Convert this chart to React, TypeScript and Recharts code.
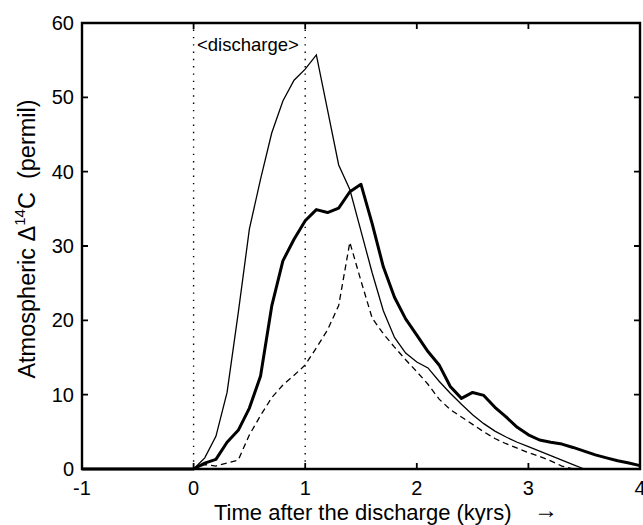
import { LineChart, Line, XAxis, YAxis, ReferenceLine } from "recharts"

// time after the discharge (kyrs)
const years = [
  -1, 0, 0.1, 0.2, 0.3, 0.4, 0.5, 0.6, 0.7, 0.8, 0.9, 1.0, 1.1, 1.2, 1.3, 1.4, 1.5, 1.6, 1.7, 1.8, 1.9, 2.0, 2.1,
  2.2, 2.3, 2.4, 2.5, 2.6, 2.7, 2.8, 2.9, 3.0, 3.1, 3.2, 3.3, 3.4, 3.5, 3.6, 3.7, 3.8, 3.9, 4.0,
]

// atmospheric Δ14C (permil), one value per year
const thinRun = [
  0, 0, 1.5, 4.4, 10.3, 21, 32.3, 39, 45.2, 49.5, 52.3, 53.8, 55.7, 48.3, 40.9, 37.6, 32, 26.4, 21.3, 17.7, 15.6,
  14.4, 13.6, 11.8, 10.2, 8.7, 7.3, 6.1, 5.1, 4.3, 3.6, 3.0, 2.4, 1.8, 1.2, 0.6, 0, null, null, null, null, null,
]
const thickRun = [
  0, 0, 0.8, 1.3, 3.6, 5.2, 8.2, 12.5, 21.9, 28.0, 30.9, 33.4, 34.9, 34.5, 35.1, 37.3, 38.3, 33.0, 27.2, 23.1, 20.2,
  18.0, 15.8, 14.0, 11.1, 9.5, 10.3, 9.9, 8.3, 7.0, 5.6, 4.6, 3.9, 3.6, 3.35, 2.9, 2.4, 1.9, 1.5, 1.1, 0.8, 0.45,
]
const dashedRun = [
  0, 0, 0.6, 0.4, 0.8, 1.2, 4.6, 7.2, 9.6, 11.3, 12.6, 14.0, 16.3, 18.7, 22.0, 30.5, 25.3, 20.3, 18.2, 16.4, 14.7,
  13.1, 11.4, 9.4, 8.0, 7.0, 6.0, 5.0, 4.1, 3.4, 2.8, 2.2, 1.7, 1.1, 0.4, 0, null, null, null, null, null, null,
]

const xTicks = [-1, 0, 1, 2, 3, 4]
const yTicks = [0, 10, 20, 30, 40, 50, 60]
const dischargeBounds = [0, 1]

const X_MIN = -1
const X_MAX = 4
const Y_MIN = 0
const Y_MAX = 60

const data = years.map((t, i) => ({
  t,
  thin: thinRun[i],
  thick: thickRun[i],
  dashed: dashedRun[i],
}))

const W = 643
const H = 525
const M = { top: 23, right: 3, bottom: 0, left: 0 }
const Y_AXIS_W = 82
const X_AXIS_H = 56
// plot box, same as what recharts lays out from the margins above
const box = {
  left: M.left + Y_AXIS_W,
  right: W - M.right,
  top: M.top,
  bottom: H - M.bottom - X_AXIS_H,
}
const px = (v: number) => box.left + ((v - X_MIN) / (X_MAX - X_MIN)) * (box.right - box.left)
const py = (v: number) => box.bottom - ((v - Y_MIN) / (Y_MAX - Y_MIN)) * (box.bottom - box.top)
const TICK = 6

const font = "'Liberation Sans', Arial, Helvetica, sans-serif"
const tickStyle = { fill: "#000", fontSize: 20, fontFamily: font }
const axisStroke = { stroke: "#000", strokeWidth: 2 }

export default function App() {
  return (
    <div style={{ position: "absolute", left: 0, top: 0, width: W, height: H, background: "#fff" }}>
      <LineChart width={W} height={H} data={data} margin={M}>
        <XAxis
          dataKey="t"
          type="number"
          domain={[X_MIN, X_MAX]}
          ticks={xTicks}
          height={X_AXIS_H}
          axisLine={axisStroke}
          tickLine={false}
          tickSize={0}
          tickMargin={12}
          tick={tickStyle}
          interval={0}
        />
        <YAxis
          type="number"
          domain={[Y_MIN, Y_MAX]}
          ticks={yTicks}
          width={Y_AXIS_W}
          axisLine={axisStroke}
          tickLine={false}
          tickSize={0}
          tickMargin={8}
          tick={tickStyle}
          interval={0}
        />
        {dischargeBounds.map((b) => (
          <ReferenceLine key={b} x={b} stroke="#000" strokeWidth={1.4} strokeDasharray="1.4 5.9" />
        ))}
        <Line
          type="linear"
          dataKey="dashed"
          stroke="#000"
          strokeWidth={1.3}
          strokeDasharray="6 4"
          dot={false}
          isAnimationActive={false}
        />
        <Line
          type="linear"
          dataKey="thin"
          stroke="#000"
          strokeWidth={1.3}
          dot={false}
          isAnimationActive={false}
        />
        <Line
          type="linear"
          dataKey="thick"
          stroke="#000"
          strokeWidth={3}
          strokeLinejoin="round"
          dot={false}
          isAnimationActive={false}
        />
      </LineChart>
      <svg
        width={W}
        height={H}
        style={{ position: "absolute", left: 0, top: 0, pointerEvents: "none" }}
        fontFamily={font}
      >
        {/* axes box with inward ticks on every side */}
        <path
          d={`M${box.left},${box.top} H${box.right} V${box.bottom} H${box.left} Z`}
          fill="none"
          stroke="#000"
          strokeWidth={2.4}
        />
        {xTicks.map((t) => (
          <path
            key={"xt" + t}
            d={`M${px(t)},${box.bottom} v${-TICK} M${px(t)},${box.top} v${TICK}`}
            fill="none"
            stroke="#000"
            strokeWidth={1.8}
          />
        ))}
        {yTicks.map((v) => (
          <path
            key={"yt" + v}
            d={`M${box.left},${py(v)} h${TICK} M${box.right},${py(v)} h${-TICK}`}
            fill="none"
            stroke="#000"
            strokeWidth={1.8}
          />
        ))}
        <g fill="#000">
          <text x={197} y={51} fontSize={18.5}>
            {"<discharge>"}
          </text>
          <text x={214} y={520} fontSize={22}>
            Time after the discharge (kyrs)
          </text>
          <text x={546} y={518} fontSize={24} textAnchor="middle">
            →
          </text>
          <text transform="translate(35,239) rotate(-90)" textAnchor="middle" fontSize={23.5}>
            {"Atmospheric \u0394"}
            <tspan fontSize={15} dy={-10}>
              14
            </tspan>
            <tspan dy={10}>{"C\u00a0\u00a0(permil)"}</tspan>
          </text>
        </g>
      </svg>
    </div>
  )
}
